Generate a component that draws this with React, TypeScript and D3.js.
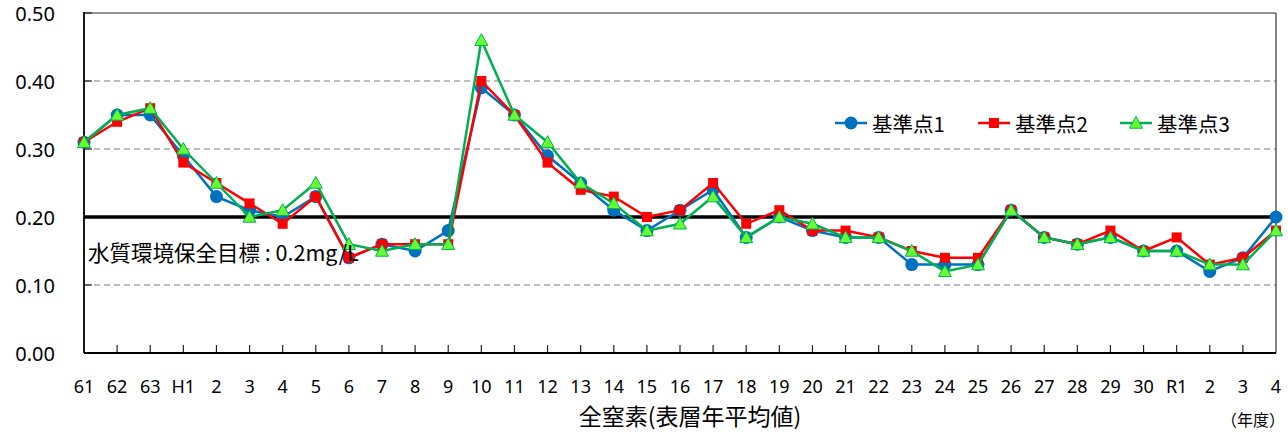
import React from "react";
import * as d3 from "d3";

const yearLabels = [
  "61", "62", "63", "H1", "2", "3", "4", "5", "6", "7", "8", "9", "10", "11", "12", "13", "14",
  "15", "16", "17", "18", "19", "20", "21", "22", "23", "24", "25", "26", "27", "28", "29", "30",
  "R1", "2", "3", "4",
];

const point1 = [
  0.31, 0.35, 0.35, 0.29, 0.23, 0.21, 0.2, 0.23, 0.14, 0.16, 0.15, 0.18, 0.39, 0.35, 0.29, 0.25,
  0.21, 0.18, 0.21, 0.24, 0.17, 0.2, 0.18, 0.17, 0.17, 0.13, 0.13, 0.13, 0.21, 0.17, 0.16, 0.17,
  0.15, 0.15, 0.12, 0.14, 0.2,
];
const point2 = [
  0.31, 0.34, 0.36, 0.28, 0.25, 0.22, 0.19, 0.23, 0.14, 0.16, 0.16, 0.16, 0.4, 0.35, 0.28, 0.24,
  0.23, 0.2, 0.21, 0.25, 0.19, 0.21, 0.18, 0.18, 0.17, 0.15, 0.14, 0.14, 0.21, 0.17, 0.16, 0.18,
  0.15, 0.17, 0.13, 0.14, 0.18,
];
const point3 = [
  0.31, 0.35, 0.36, 0.3, 0.25, 0.2, 0.21, 0.25, 0.16, 0.15, 0.16, 0.16, 0.46, 0.35, 0.31, 0.25,
  0.22, 0.18, 0.19, 0.23, 0.17, 0.2, 0.19, 0.17, 0.17, 0.15, 0.12, 0.13, 0.21, 0.17, 0.16, 0.17,
  0.15, 0.15, 0.13, 0.13, 0.18,
];

const seriesNames = ["基準点1", "基準点2", "基準点3"];
const yTicks = [0, 0.1, 0.2, 0.3, 0.4, 0.5];
const targetValue = 0.2;
const targetLabel = "水質環境保全目標 : 0.2mg/L";
const xTitle = "全窒素(表層年平均値)";
const unitLabel = "（年度）";

const W = 1288;
const H = 432;
const L = 84;
const R = 1276;
const T = 13;
const B = 353;

const FONT = "'Noto Sans CJK JP', 'Noto Sans', sans-serif";

function Marker({ kind, x, y }: { kind: number; x: number; y: number }) {
  if (kind === 0) return <circle cx={x} cy={y} r={6.5} fill="#0070C0" />;
  if (kind === 1)
    return <rect x={x - 5} y={y - 5} width={10} height={10} fill="#FF0000" />;
  const s = 6.5;
  return (
    <path
      d={`M${x},${y - s}L${x + s},${y + s * 0.8}L${x - s},${y + s * 0.8}Z`}
      fill="#66FF33"
      stroke="#00B050"
      strokeWidth={1}
    />
  );
}

export default function App() {
  const idx = yearLabels.map((_, i) => i);
  const x = d3.scalePoint<number>().domain(idx).range([L, R]);
  const y = d3.scaleLinear().domain([0, 0.5]).range([B, T]);
  const series = [point1, point2, point3];
  const colors = ["#0070C0", "#FF0000", "#00B050"];
  const line = d3
    .line<number>()
    .x((_, i) => x(i) as number)
    .y((d) => y(d));

  const legendX = [835, 978, 1120];
  const legendY = 123;

  return (
    <div style={{ position: "absolute", left: 0, top: 0 }}>
      <svg width={W} height={H} style={{ display: "block", background: "#fff" }} fontFamily={FONT}>
        {/* grid */}
        {yTicks
          .filter((t) => t !== 0 && t !== 0.5 && t !== targetValue)
          .map((t) => (
            <line
              key={t}
              x1={L}
              x2={R}
              y1={y(t)}
              y2={y(t)}
              stroke="#a6a6a6"
              strokeWidth={1.3}
              strokeDasharray="6,4"
            />
          ))}
        {/* border top & right */}
        <line x1={L} x2={R} y1={y(0.5)} y2={y(0.5)} stroke="#6f6f6f" strokeWidth={1.6} />
        <line x1={R} x2={R} y1={T} y2={B} stroke="#333" strokeWidth={1.2} />
        {/* y ticks */}
        {yTicks.map((t) => (
          <g key={t}>
            <line x1={L} x2={L + 8} y1={y(t)} y2={y(t)} stroke="#222" strokeWidth={1.2} />
            <text
              x={55}
              y={y(t)}
              textAnchor="end"
              dominantBaseline="central"
              fontSize={20}
              fontFamily="'Noto Sans', sans-serif"
              fill="#000"
            >
              {t.toFixed(2)}
            </text>
          </g>
        ))}
        {/* x ticks */}
        {idx.map((i) => (
          <g key={i}>
            {i > 0 && i < idx.length - 1 && (
              <line x1={x(i)} x2={x(i)} y1={B} y2={B - 8} stroke="#222" strokeWidth={1.2} />
            )}
            <text
              x={x(i)}
              y={393}
              textAnchor="middle"
              fontSize={18}
              fontFamily="'Noto Sans', sans-serif"
              fill="#000"
            >
              {yearLabels[i]}
            </text>
          </g>
        ))}
        {/* axes */}
        <line x1={L} x2={L} y1={T - 1} y2={B} stroke="#000" strokeWidth={1.8} />
        <line x1={L} x2={R} y1={B} y2={B} stroke="#000" strokeWidth={1.8} />
        {/* target line */}
        <line x1={L} x2={R} y1={y(targetValue)} y2={y(targetValue)} stroke="#000" strokeWidth={3.5} />
        {/* series */}
        {series.map((s, k) => (
          <g key={k}>
            <path d={line(s) as string} fill="none" stroke={colors[k]} strokeWidth={2.5} />
            {s.map((v, i) => (
              <Marker key={i} kind={k} x={x(i) as number} y={y(v)} />
            ))}
          </g>
        ))}
        {/* target label */}
        <text x={88} y={261} fontSize={21.5} fill="#000">
          {targetLabel}
        </text>
        {/* legend */}
        {seriesNames.map((n, k) => (
          <g key={n}>
            <line
              x1={legendX[k]}
              x2={legendX[k] + 32}
              y1={legendY}
              y2={legendY}
              stroke={colors[k]}
              strokeWidth={2.5}
            />
            <Marker kind={k} x={legendX[k] + 16} y={legendY} />
            <text x={legendX[k] + 37} y={legendY} dominantBaseline="central" fontSize={20.5} fill="#000">
              {n}
            </text>
          </g>
        ))}
        {/* titles */}
        <text x={690} y={425} textAnchor="middle" fontSize={23} fill="#000">
          {xTitle}
        </text>
        <text x={1253} y={426} textAnchor="middle" fontSize={16} fill="#000">
          {unitLabel}
        </text>
      </svg>
    </div>
  );
}
